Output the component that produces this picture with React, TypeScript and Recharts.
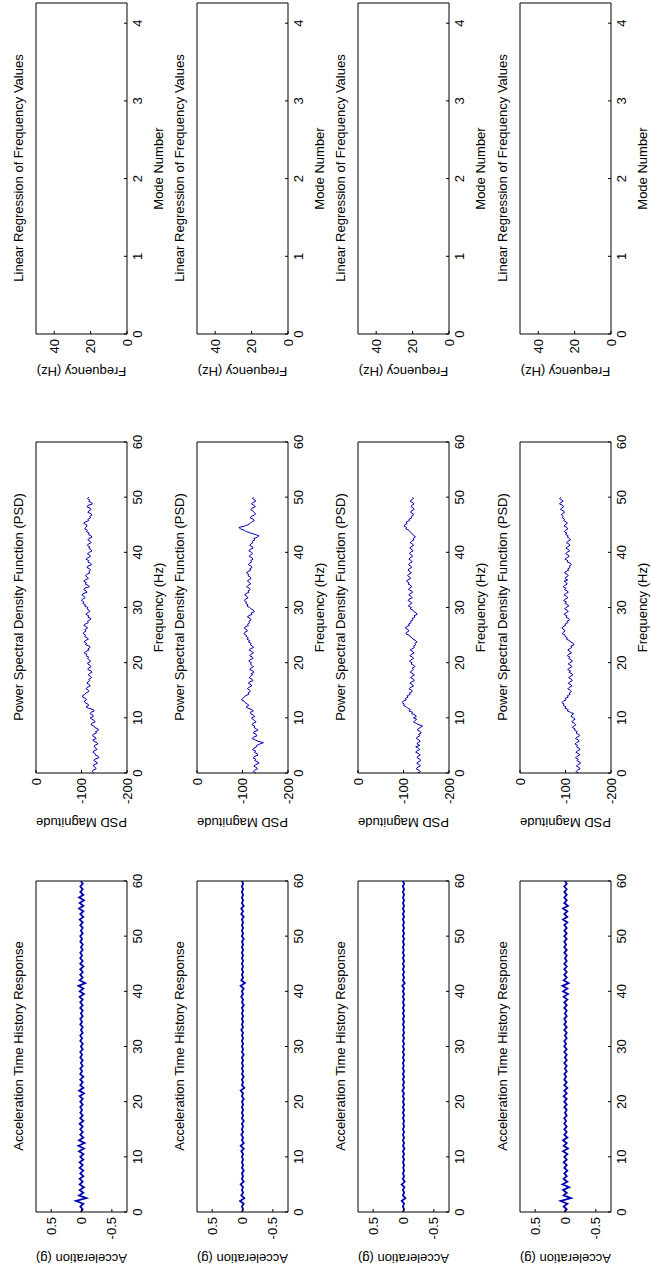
import { LineChart, Line, XAxis, YAxis } from 'recharts'

// sample grids
const accelTime = [
  0, 0.5, 1, 1.5, 2, 2.5, 3, 3.5, 4, 4.5,
  5, 5.5, 6, 6.5, 7, 7.5, 8, 8.5, 9, 9.5,
  10, 10.5, 11, 11.5, 12, 12.5, 13, 13.5, 14, 14.5,
  15, 15.5, 16, 16.5, 17, 17.5, 18, 18.5, 19, 19.5,
  20, 20.5, 21, 21.5, 22, 22.5, 23, 23.5, 24, 24.5,
  25, 25.5, 26, 26.5, 27, 27.5, 28, 28.5, 29, 29.5,
  30, 30.5, 31, 31.5, 32, 32.5, 33, 33.5, 34, 34.5,
  35, 35.5, 36, 36.5, 37, 37.5, 38, 38.5, 39, 39.5,
  40, 40.5, 41, 41.5, 42, 42.5, 43, 43.5, 44, 44.5,
  45, 45.5, 46, 46.5, 47, 47.5, 48, 48.5, 49, 49.5,
  50, 50.5, 51, 51.5, 52, 52.5, 53, 53.5, 54, 54.5,
  55, 55.5, 56, 56.5, 57, 57.5, 58, 58.5, 59, 59.5,
  60,
]

const psdFreq = [
  0, 0.25, 0.5, 0.75, 1, 1.25, 1.5, 1.75, 2, 2.25, 2.5, 2.75, 3, 3.25, 3.5, 3.75, 4, 4.25, 4.5, 4.75,
  5, 5.25, 5.5, 5.75, 6, 6.25, 6.5, 6.75, 7, 7.25, 7.5, 7.75, 8, 8.25, 8.5, 8.75, 9, 9.25, 9.5, 9.75,
  10, 10.25, 10.5, 10.75, 11, 11.25, 11.5, 11.75, 12, 12.25, 12.5, 12.75, 13, 13.25, 13.5, 13.75, 14, 14.25, 14.5, 14.75,
  15, 15.25, 15.5, 15.75, 16, 16.25, 16.5, 16.75, 17, 17.25, 17.5, 17.75, 18, 18.25, 18.5, 18.75, 19, 19.25, 19.5, 19.75,
  20, 20.25, 20.5, 20.75, 21, 21.25, 21.5, 21.75, 22, 22.25, 22.5, 22.75, 23, 23.25, 23.5, 23.75, 24, 24.25, 24.5, 24.75,
  25, 25.25, 25.5, 25.75, 26, 26.25, 26.5, 26.75, 27, 27.25, 27.5, 27.75, 28, 28.25, 28.5, 28.75, 29, 29.25, 29.5, 29.75,
  30, 30.25, 30.5, 30.75, 31, 31.25, 31.5, 31.75, 32, 32.25, 32.5, 32.75, 33, 33.25, 33.5, 33.75, 34, 34.25, 34.5, 34.75,
  35, 35.25, 35.5, 35.75, 36, 36.25, 36.5, 36.75, 37, 37.25, 37.5, 37.75, 38, 38.25, 38.5, 38.75, 39, 39.25, 39.5, 39.75,
  40, 40.25, 40.5, 40.75, 41, 41.25, 41.5, 41.75, 42, 42.25, 42.5, 42.75, 43, 43.25, 43.5, 43.75, 44, 44.25, 44.5, 44.75,
  45, 45.25, 45.5, 45.75, 46, 46.25, 46.5, 46.75, 47, 47.25, 47.5, 47.75, 48, 48.25, 48.5, 48.75, 49, 49.25, 49.5, 49.75,
  50,
]

const modeNumbers = [0, 1, 2, 3, 4]

// acceleration (g)
const accel1 = [
  0.01, -0.02, 0.02, -0.03, 0.09, -0.08, 0.04, -0.03, 0.03, -0.04,
  0.03, -0.02, 0.03, -0.03, 0.02, -0.03, 0.03, -0.02, 0.03, -0.03,
  0.02, -0.03, 0.04, -0.04, 0.05, -0.05, 0.04, -0.03, 0.02, -0.02,
  0.02, -0.02, 0.03, -0.03, 0.02, -0.02, 0.02, -0.01, 0.02, -0.02,
  0.02, -0.02, 0.03, -0.04, 0.04, -0.03, 0.02, -0.02, 0.02, -0.03,
  0.02, -0.01, 0.02, -0.02, 0.01, -0.02, 0.02, -0.01, 0.02, -0.02,
  0.01, -0.02, 0.02, -0.01, 0.02, -0.02, 0.01, -0.02, 0.02, -0.01,
  0.02, -0.02, 0.01, -0.02, 0.02, -0.02, 0.02, -0.02, 0.03, -0.04,
  0.03, -0.03, 0.05, -0.06, 0.03, -0.02, 0.02, -0.02, 0.02, -0.03,
  0.02, -0.02, 0.02, -0.01, 0.02, -0.02, 0.01, -0.02, 0.02, -0.01,
  0.02, -0.02, 0.01, -0.02, 0.02, -0.02, 0.03, -0.03, 0.02, -0.03,
  0.04, -0.03, 0.03, -0.04, 0.04, -0.03, 0.02, -0.02, 0.02, -0.02,
  0.01,
]
const accel2 = [
  0.01, -0.01, 0.01, -0.02, 0.04, -0.03, 0.02, -0.01, 0.01, -0.01,
  0.03, -0.02, 0.01, -0.01, 0.01, -0.02, 0.01, -0.01, 0.01, -0.01,
  0.01, -0.01, 0.02, -0.02, 0.03, -0.02, 0.01, -0.01, 0.02, -0.01,
  0.01, -0.01, 0.01, -0.02, 0.01, -0.01, 0.01, -0.01, 0.01, -0.01,
  0.01, -0.02, 0.01, -0.01, 0.03, -0.03, 0.01, -0.01, 0.01, -0.02,
  0.01, -0.01, 0.01, -0.01, 0.01, -0.01, 0.01, -0.02, 0.01, -0.01,
  0.01, -0.01, 0.01, -0.01, 0.01, -0.01, 0.02, -0.01, 0.01, -0.01,
  0.01, -0.01, 0.01, -0.01, 0.01, -0.02, 0.01, -0.01, 0.02, -0.01,
  0.01, -0.02, 0.03, -0.04, 0.02, -0.01, 0.01, -0.01, 0.01, -0.01,
  0.01, -0.01, 0.01, -0.01, 0.01, -0.01, 0.01, -0.01, 0.01, -0.02,
  0.01, -0.01, 0.01, -0.01, 0.01, -0.01, 0.01, -0.02, 0.02, -0.01,
  0.02, -0.02, 0.01, -0.01, 0.01, -0.01, 0.01, -0.01, 0.01, -0.01,
  0.01,
]
const accel3 = [
  0.01, -0.01, 0.01, -0.01, 0.03, -0.03, 0.01, -0.01, 0.01, -0.015,
  0.03, -0.02, 0.01, -0.01, 0.01, -0.01, 0.005, -0.01, 0.01, -0.01,
  0.01, -0.01, 0.01, -0.015, 0.01, -0.01, 0.01, -0.01, 0.01, -0.01,
  0.01, -0.01, 0.005, -0.01, 0.01, -0.01, 0.01, -0.01, 0.01, -0.01,
  0.01, -0.01, 0.01, -0.01, 0.02, -0.01, 0.01, -0.01, 0.01, -0.01,
  0.01, -0.01, 0.01, -0.005, 0.01, -0.01, 0.01, -0.01, 0.01, -0.01,
  0.01, -0.01, 0.01, -0.01, 0.01, -0.01, 0.005, -0.01, 0.01, -0.01,
  0.01, -0.01, 0.01, -0.01, 0.01, -0.01, 0.01, -0.01, 0.01, -0.01,
  0.01, -0.01, 0.02, -0.02, 0.01, -0.01, 0.01, -0.01, 0.01, -0.01,
  0.01, -0.01, 0.01, -0.01, 0.01, -0.005, 0.01, -0.01, 0.01, -0.01,
  0.01, -0.01, 0.01, -0.01, 0.01, -0.01, 0.01, -0.01, 0.01, -0.01,
  0.01, -0.01, 0.01, -0.01, 0.01, -0.01, 0.01, -0.01, 0.01, -0.01,
  0.01,
]
const accel4 = [
  0.02, -0.02, 0.03, -0.03, 0.08, -0.09, 0.03, -0.02, 0.04, -0.06,
  0.05, -0.03, 0.03, -0.02, 0.02, -0.03, 0.02, -0.02, 0.03, -0.02,
  0.02, -0.03, 0.04, -0.04, 0.03, -0.02, 0.04, -0.03, 0.02, -0.02,
  0.02, -0.02, 0.02, -0.01, 0.02, -0.02, 0.01, -0.02, 0.02, -0.02,
  0.02, -0.02, 0.03, -0.02, 0.02, -0.03, 0.02, -0.02, 0.02, -0.01,
  0.02, -0.02, 0.01, -0.02, 0.02, -0.02, 0.01, -0.02, 0.02, -0.02,
  0.02, -0.01, 0.02, -0.02, 0.01, -0.02, 0.02, -0.02, 0.02, -0.01,
  0.02, -0.02, 0.01, -0.02, 0.02, -0.02, 0.02, -0.03, 0.03, -0.04,
  0.04, -0.03, 0.05, -0.05, 0.03, -0.02, 0.02, -0.02, 0.02, -0.02,
  0.02, -0.02, 0.01, -0.02, 0.02, -0.02, 0.02, -0.01, 0.02, -0.02,
  0.02, -0.02, 0.02, -0.02, 0.02, -0.03, 0.04, -0.03, 0.02, -0.03,
  0.04, -0.04, 0.02, -0.02, 0.02, -0.02, 0.02, -0.02, 0.02, -0.02,
  0.01,
]

// PSD magnitude (dB), 0.25 Hz steps
const psd1 = [
  -128, -124, -125, -132, -131, -126, -127, -135, -133, -127, -129, -138, -137, -131, -130, -125, -127, -134, -132, -128,
  -129, -136, -134, -127, -125, -132, -130, -124, -126, -133, -131, -137, -136, -129, -127, -121, -122, -130, -128, -123,
  -119, -126, -125, -119, -121, -128, -126, -115, -110, -116, -114, -108, -106, -111, -109, -103, -102, -107, -110, -116,
  -115, -110, -112, -119, -118, -112, -114, -118, -116, -122, -120, -115, -117, -123, -121, -114, -115, -121, -119, -114,
  -114, -120, -118, -113, -116, -110, -112, -106, -109, -116, -114, -119, -117, -109, -111, -106, -108, -115, -113, -107,
  -109, -104, -105, -110, -107, -113, -111, -105, -108, -115, -113, -119, -121, -114, -116, -110, -112, -118, -117, -112,
  -114, -107, -109, -103, -105, -100, -102, -108, -106, -101, -103, -112, -110, -105, -107, -117, -115, -108, -111, -105,
  -108, -115, -113, -109, -111, -118, -116, -120, -118, -112, -114, -122, -120, -114, -116, -110, -113, -120, -118, -113,
  -117, -123, -121, -116, -118, -113, -115, -121, -119, -114, -116, -123, -121, -115, -117, -111, -113, -107, -109, -112,
  -111, -105, -108, -116, -114, -120, -118, -123, -121, -114, -116, -121, -119, -112, -114, -124, -122, -116, -118, -113,
  -116,
]
const psd2 = [
  -130, -124, -126, -133, -131, -125, -128, -136, -134, -127, -129, -123, -127, -134, -132, -126, -129, -122, -125, -131,
  -131, -138, -146, -134, -128, -121, -124, -132, -130, -124, -126, -134, -131, -125, -127, -121, -123, -130, -127, -122,
  -120, -127, -124, -118, -117, -124, -121, -112, -108, -114, -111, -106, -104, -98, -100, -104, -106, -114, -112, -117,
  -116, -111, -113, -120, -119, -113, -115, -123, -121, -115, -117, -122, -119, -125, -123, -116, -118, -124, -121, -117,
  -120, -114, -116, -123, -122, -116, -118, -124, -121, -115, -117, -124, -122, -117, -119, -113, -116, -110, -113, -108,
  -108, -103, -105, -111, -109, -104, -106, -113, -111, -116, -114, -119, -117, -111, -113, -121, -119, -126, -124, -119,
  -116, -110, -112, -107, -109, -104, -106, -112, -110, -105, -107, -114, -112, -117, -115, -109, -112, -118, -116, -111,
  -113, -119, -117, -112, -114, -109, -111, -118, -116, -121, -119, -113, -115, -120, -118, -123, -121, -115, -117, -122,
  -120, -114, -116, -123, -122, -116, -118, -123, -121, -127, -125, -133, -136, -127, -118, -109, -104, -96, -92, -104,
  -112, -117, -120, -126, -124, -117, -119, -126, -129, -125, -123, -118, -121, -128, -126, -120, -122, -129, -127, -122,
  -124,
]
const psd3 = [
  -131, -137, -134, -128, -130, -137, -135, -129, -132, -138, -136, -130, -131, -137, -134, -127, -129, -136, -133, -127,
  -136, -130, -131, -137, -134, -128, -130, -136, -133, -139, -137, -131, -132, -137, -142, -134, -128, -122, -125, -129,
  -122, -128, -126, -118, -120, -112, -115, -109, -106, -100, -102, -97, -99, -106, -104, -110, -108, -115, -113, -119,
  -118, -112, -115, -122, -120, -114, -117, -124, -122, -116, -118, -124, -121, -115, -117, -122, -119, -125, -123, -117,
  -119, -113, -116, -122, -120, -114, -117, -123, -121, -115, -118, -124, -122, -127, -125, -130, -127, -121, -119, -114,
  -112, -105, -107, -112, -110, -104, -106, -113, -111, -117, -115, -121, -119, -125, -123, -130, -128, -123, -121, -115,
  -117, -111, -113, -118, -116, -110, -112, -119, -117, -112, -114, -120, -118, -111, -113, -118, -116, -110, -112, -107,
  -109, -116, -114, -109, -111, -117, -115, -110, -112, -118, -116, -111, -113, -119, -117, -112, -114, -120, -118, -113,
  -115, -121, -119, -114, -116, -122, -120, -115, -117, -123, -121, -126, -124, -120, -118, -114, -112, -105, -107, -101,
  -103, -108, -106, -113, -112, -118, -117, -122, -121, -116, -117, -123, -122, -117, -118, -123, -121, -115, -117, -122,
  -120,
]
const psd4 = [
  -129, -123, -126, -132, -130, -124, -127, -133, -131, -125, -128, -122, -125, -131, -129, -123, -126, -132, -130, -124,
  -127, -121, -124, -130, -128, -122, -125, -131, -129, -123, -126, -120, -121, -115, -118, -123, -120, -114, -116, -121,
  -118, -112, -114, -118, -111, -104, -106, -99, -101, -95, -97, -92, -95, -101, -99, -106, -104, -110, -108, -113,
  -111, -105, -108, -114, -112, -106, -109, -115, -113, -107, -110, -116, -114, -108, -111, -105, -108, -114, -112, -106,
  -109, -115, -113, -107, -110, -104, -107, -113, -111, -105, -108, -114, -112, -119, -117, -111, -109, -102, -104, -99,
  -99, -93, -95, -99, -97, -92, -94, -100, -99, -105, -103, -109, -107, -101, -103, -97, -100, -106, -104, -98,
  -101, -107, -105, -99, -102, -96, -99, -105, -103, -97, -100, -106, -104, -98, -101, -95, -98, -104, -102, -97,
  -105, -99, -101, -106, -104, -98, -100, -107, -105, -110, -108, -113, -111, -104, -105, -99, -102, -108, -106, -100,
  -103, -109, -107, -101, -104, -110, -108, -102, -105, -111, -109, -104, -106, -100, -103, -97, -100, -105, -103, -97,
  -99, -104, -102, -96, -98, -93, -95, -91, -93, -98, -96, -89, -91, -96, -94, -87, -89, -95, -92, -87,
  -90,
]

const timeTicks = [0, 10, 20, 30, 40, 50, 60]
const accelTicks = [-0.5, 0, 0.5]
const psdTicks = [-200, -100, 0]
const modeTicks = [0, 1, 2, 3, 4]
const regFreqTicks = [0, 20, 40]

const accelSeries = [accel1, accel2, accel3, accel4]
const psdSeries = [psd1, psd2, psd3, psd4]

// figure layout (unrotated MATLAB figure, later turned 90deg)
const FIG_W = 1274
const FIG_H = 651
const ROW_TOPS = [35, 196, 357, 519]
const COL_LEFTS = [62, 501, 940]
const BOX_W = 332
const BOX_H = 92
const AXIS_W = 62
const TOP_PAD = 28
const RIGHT_PAD = 10
const X_AXIS_H = 42
const FONT = 13
const LINE_BLUE = '#0000b4'

interface PanelProps {
  left: number
  top: number
  title: string
  xLabel: string
  yLabel: string
  yLabelOffset: number
  data: Array<Record<string, number | undefined>>
  xKey: string
  yKey: string
  xDomain: [number, number]
  yDomain: [number, number]
  xTicks: number[]
  yTicks: number[]
  lineWidth: number
}

function Panel(p: PanelProps) {
  return (
    <>
      <div
        style={{
          position: 'absolute',
          left: p.left,
          top: p.top - 24,
          width: BOX_W,
          height: 16,
          lineHeight: '16px',
          textAlign: 'center',
          fontSize: FONT,
          whiteSpace: 'nowrap',
        }}
      >
        {p.title}
      </div>
      <div style={{ position: 'absolute', left: p.left - AXIS_W, top: p.top - TOP_PAD }}>
        <LineChart
          width={AXIS_W + BOX_W + RIGHT_PAD}
          height={TOP_PAD + BOX_H + X_AXIS_H}
          data={p.data}
          margin={{ top: TOP_PAD, right: RIGHT_PAD, bottom: 0, left: 0 }}
        >
          <XAxis
            xAxisId="b"
            dataKey={p.xKey}
            type="number"
            domain={p.xDomain}
            ticks={p.xTicks}
            interval={0}
            allowDataOverflow
            height={X_AXIS_H}
            tickSize={-3}
            tickMargin={9}
            stroke="#000"
            tick={{ fill: '#000', fontSize: FONT }}
            label={{ value: p.xLabel, position: 'insideBottom', offset: 6, fill: '#000', fontSize: FONT }}
          />
          <XAxis
            xAxisId="t"
            orientation="top"
            dataKey={p.xKey}
            type="number"
            domain={p.xDomain}
            ticks={p.xTicks}
            interval={0}
            allowDataOverflow
            height={1}
            tickSize={-3}
            tick={false}
            stroke="#000"
          />
          <YAxis
            yAxisId="l"
            type="number"
            domain={p.yDomain}
            ticks={p.yTicks}
            interval={0}
            allowDataOverflow
            width={AXIS_W}
            tickSize={-3}
            tickMargin={8}
            stroke="#000"
            tick={{ fill: '#000', fontSize: FONT }}
            label={{
              value: p.yLabel,
              angle: -90,
              position: 'insideLeft',
              offset: p.yLabelOffset,
              fill: '#000',
              fontSize: FONT,
              style: { textAnchor: 'middle' },
            }}
          />
          <YAxis
            yAxisId="r"
            orientation="right"
            type="number"
            domain={p.yDomain}
            ticks={p.yTicks}
            interval={0}
            allowDataOverflow
            width={1}
            tickSize={-3}
            tick={false}
            stroke="#000"
          />
          {/* transparent copy so the mirrored (box) axes get a scale */}
          <Line
            xAxisId="t"
            yAxisId="r"
            type="linear"
            dataKey={p.yKey}
            stroke="transparent"
            dot={false}
            activeDot={false}
            isAnimationActive={false}
          />
          <Line
            xAxisId="b"
            yAxisId="l"
            type="linear"
            dataKey={p.yKey}
            stroke={LINE_BLUE}
            strokeWidth={p.lineWidth}
            dot={false}
            isAnimationActive={false}
          />
        </LineChart>
      </div>
    </>
  )
}

export default function App() {
  const regressionRows = modeNumbers.map((m) => ({ mode: m }))

  return (
    <div
      style={{
        position: 'absolute',
        left: 0,
        top: 0,
        width: FIG_H,
        height: FIG_W,
        overflow: 'hidden',
        background: '#fff',
      }}
    >
      <div
        style={{
          position: 'absolute',
          left: 0,
          top: 0,
          width: FIG_W,
          height: FIG_H,
          transformOrigin: '0 0',
          transform: `translateY(${FIG_W}px) rotate(-90deg)`,
          fontFamily: '"Liberation Sans", Arial, Helvetica, sans-serif',
          color: '#000',
        }}
      >
        {ROW_TOPS.map((top, r) => (
          <div key={r}>
            <Panel
              left={COL_LEFTS[0]}
              top={top}
              title="Acceleration Time History Response"
              xLabel=""
              yLabel="Acceleration (g)"
              yLabelOffset={15}
              data={accelTime.map((t, i) => ({ t, a: accelSeries[r][i] }))}
              xKey="t"
              yKey="a"
              xDomain={[0, 60]}
              yDomain={[-0.75, 0.75]}
              xTicks={timeTicks}
              yTicks={accelTicks}
              lineWidth={1.8}
            />
            <Panel
              left={COL_LEFTS[1]}
              top={top}
              title="Power Spectral Density Function (PSD)"
              xLabel="Frequency (Hz)"
              yLabel="PSD Magnitude"
              yLabelOffset={12}
              data={psdFreq.map((f, i) => ({ f, p: psdSeries[r][i] }))}
              xKey="f"
              yKey="p"
              xDomain={[0, 60]}
              yDomain={[-200, 0]}
              xTicks={timeTicks}
              yTicks={psdTicks}
              lineWidth={1}
            />
            <Panel
              left={COL_LEFTS[2]}
              top={top}
              title="Linear Regression of Frequency Values"
              xLabel="Mode Number"
              yLabel="Frequency (Hz)"
              yLabelOffset={24}
              data={regressionRows}
              xKey="mode"
              yKey="freq"
              xDomain={[0, 4.26]}
              yDomain={[0, 50]}
              xTicks={modeTicks}
              yTicks={regFreqTicks}
              lineWidth={1}
            />
          </div>
        ))}
      </div>
    </div>
  )
}
